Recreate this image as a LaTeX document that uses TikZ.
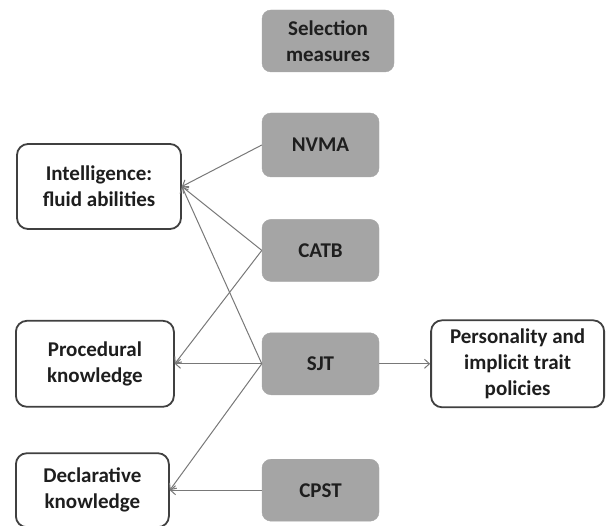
\documentclass[tikz,border=0pt]{standalone}
\usepackage{fontspec}
\setmainfont{Carlito}
\usepackage{tikz}
\usetikzlibrary{arrows.meta, positioning}
\definecolor{boxgray}{RGB}{165,165,165}
\definecolor{linegray}{RGB}{120,120,120}
\definecolor{edgegray}{RGB}{64,64,64}
\definecolor{txt}{RGB}{30,30,30}

\begin{document}
\begin{tikzpicture}[
        x=1pt, y=1pt,
        measure/.style={rectangle, rounded corners=9pt, fill=boxgray, draw=boxgray, minimum width=117pt, minimum height=62pt, align=center, text=txt, font=\fontsize{21}{26}\selectfont\bfseries},
        construct/.style={rectangle, rounded corners=11pt, fill=white, draw=edgegray, line width=1.8pt, align=center, text=txt, font=\fontsize{21}{26}\selectfont\bfseries},
        link/.style={draw=linegray, line width=1pt, -{Straight Barb[length=5pt, width=9pt]}}
    ]
    \useasboundingbox (0,0) rectangle (607,-526);

    % Selection measures
    \node[measure, minimum width=132pt] (sel) at (328,-41) {Selection\\measures};
    \node[measure, minimum height=64pt] (nvma) at (320.5,-145) {NVMA};
    \node[measure, below=42pt of nvma] (catb) {CATB};
    \node[measure, below=51pt of catb] (sjt) {SJT};
    \node[measure, below=64pt of sjt] (cpst) {CPST};

    % Constructs
    \node[construct, minimum width=164pt, minimum height=85pt] (intel) at (99,-186.5) {Intelligence:\\fluid abilities};
    \node[construct, minimum width=158pt, minimum height=86pt, left=87pt of sjt] (proc) {Procedural\\knowledge};
    \node[construct, minimum width=153pt, minimum height=74pt, left=92pt of cpst] (decl) {Declarative\\knowledge};
    \node[construct, minimum width=173pt, minimum height=87pt, right=51pt of sjt] (pers) {Personality and\\implicit trait\\policies};

    % Links
    \draw[link] (nvma.west) -- (intel.east);
    \draw[link] (catb.west) -- (intel.east);
    \draw[link] (sjt.west) -- (intel.east);
    \draw[link] (catb.west) -- (proc.east);
    \draw[link] (sjt.west) -- (proc.east);
    \draw[link] (sjt.west) -- (decl.east);
    \draw[link] (cpst.west) -- (decl.east);
    \draw[link] (sjt.east) -- (pers.west);

\end{tikzpicture}
\end{document}
